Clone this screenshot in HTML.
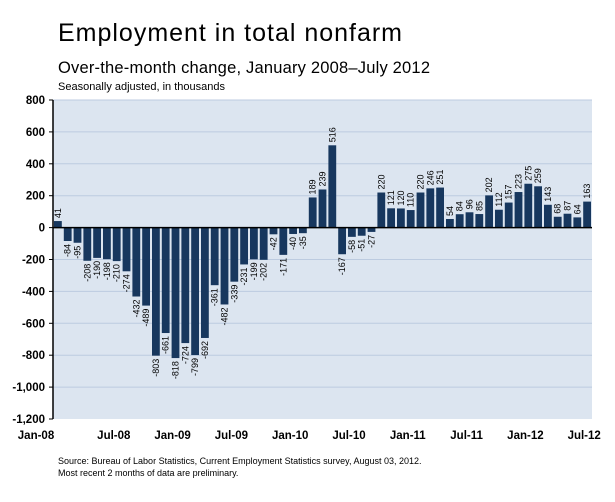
<!DOCTYPE html>
<html><head><meta charset="utf-8"><style>
body{margin:0;background:#fff;width:615px;height:497px;overflow:hidden;font-family:"Liberation Sans",sans-serif}
</style></head><body>
<svg width="615" height="497" xmlns="http://www.w3.org/2000/svg">
<text x="58" y="41" font-size="25" fill="#000" textLength="344">Employment in total nonfarm</text>
<text x="58" y="73" font-size="16.5" fill="#000" textLength="372">Over-the-month change, January 2008–July 2012</text>
<text x="58" y="90" font-size="11" fill="#000">Seasonally adjusted, in thousands</text>
<rect x="53" y="100" width="539" height="319" fill="#dce5f0"/>
<g id="grid"></g><g id="bars"></g><g id="yt"></g><g id="xt"></g>
<line x1="53" y1="100" x2="53" y2="419" stroke="#000" stroke-width="1.5"/>
<text x="58" y="464" font-size="9" fill="#000">Source: Bureau of Labor Statistics, Current Employment Statistics survey, August 03, 2012.</text>
<text x="58" y="476" font-size="9" fill="#000">Most recent 2 months of data are preliminary.</text>
</svg>
<script>
const values=[41,-84,-95,-208,-190,-198,-210,-274,-432,-489,-803,-661,-818,-724,-799,-692,-361,-482,-339,-231,-199,-202,-42,-171,-40,-35,189,239,516,-167,-58,-51,-27,220,121,120,110,220,246,251,54,84,96,85,202,112,157,223,275,259,143,68,87,64,163];
const yTicks=[800,600,400,200,0,-200,-400,-600,-800,-1000,-1200];
const yTickLabels=["800","600","400","200","0","-200","-400","-600","-800","-1,000","-1,200"];
const xLabelIdx=[0,6,12,18,24,30,36,42,48,54];
const xLabels=["Jan-08","Jul-08","Jan-09","Jul-09","Jan-10","Jul-10","Jan-11","Jul-11","Jan-12","Jul-12"];
const NS="http://www.w3.org/2000/svg";
const x0=53,x1=592,yTop=100,yBot=419,slot=(x1-x0)/values.length;
const y=v=>yTop+(800-v)/2000*(yBot-yTop);
const x=i=>x0+i*slot;
function mk(t,a,p){const e=document.createElementNS(NS,t);for(const k in a)e.setAttribute(k,a[k]);p.appendChild(e);return e;}
const grid=document.getElementById('grid'),bars=document.getElementById('bars'),yt=document.getElementById('yt'),xt=document.getElementById('xt');
yTicks.forEach((v,i)=>{
 if(v!==0&&v!==-1200){const g=mk('line',{x1:x0,x2:x1,y1:y(v),y2:y(v),stroke:'#bccbe0','stroke-width':1},grid);
 
 }
 const tk=mk('line',{x1:x0-4,x2:x0,y1:y(v),y2:y(v),stroke:'#000'},yt);
 
 
 const t=mk('text',{x:x0-8,y:y(v)+4,'font-size':11.5,'font-weight':'bold','text-anchor':'end'},yt);
 t.textContent=yTickLabels[i];
 
 
});
values.forEach((v,i)=>{
 const bx=x(i)+1,bw=slot-2;const top=Math.min(y(v),y(0)),h=Math.abs(y(v)-y(0));
 const r=mk('rect',{x:bx,y:top,width:bw,height:h,fill:'#17375e'},bars);
 
 
 const cx=bx+bw/2+3;let ty=v>=0?y(v)-3:y(v)+3;
 const t=mk('text',{x:cx,y:ty,'font-size':9,'text-anchor':v>=0?'start':'end',transform:`rotate(-90 ${cx} ${ty})`},bars);
 t.textContent=v;
 
 
});
const zl=mk('line',{x1:x0,x2:x1,y1:y(0),y2:y(0),stroke:'#000','stroke-width':1.5},bars);


xLabelIdx.forEach((idx,i)=>{
 const px=i===0?36:x(idx)+2;
 const t=mk('text',{x:px,y:439,'font-size':11.5,'font-weight':'bold','text-anchor':'middle'},xt);
 t.textContent=xLabels[i];
 
 
});
</script>
</body></html>
